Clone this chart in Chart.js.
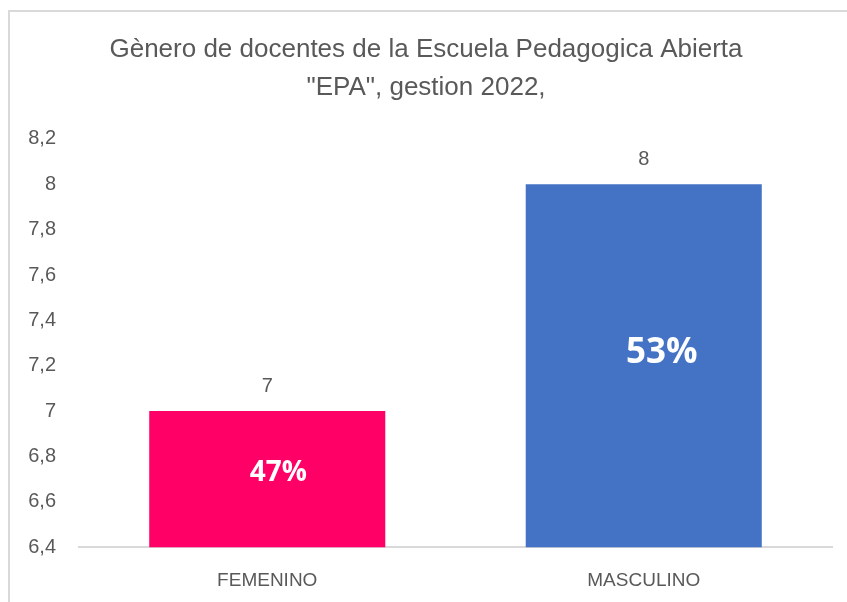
<!DOCTYPE html>
<html><head><meta charset="utf-8">
<script src="https://cdn.jsdelivr.net/npm/chart.js@4"></script>
<style>html,body{margin:0;padding:0;background:#fff}#wrap{width:847px;height:602px;position:relative}</style>
</head><body><div id="wrap"><canvas id="c" width="847" height="602"></canvas></div>
<script>
const categories = ['FEMENINO', 'MASCULINO'];
const values = [7, 8];
const percents = ['47%', '53%'];
const barColors = ['#FF0066', '#4472C4'];
const titleLines = ['Gènero de docentes de la Escuela Pedagogica Abierta', '"EPA", gestion 2022,'];
const yMin = 6.4, yMax = 8.2, yStep = 0.2;

const TXT = '#595959';
const frame = {
  id: 'frame',
  beforeDraw(chart) {
    const ctx = chart.ctx;
    ctx.save();
    ctx.strokeStyle = '#d9d9d9';
    ctx.lineWidth = 2;
    ctx.strokeRect(9, 11, 900, 700);
    ctx.restore();
  }
};
const labels = {
  id: 'labels',
  afterDraw(chart) {
    const ctx = chart.ctx;
    const meta = chart.getDatasetMeta(0);
    const offs = [[11, -6], [18, -13]];
    const basePx = chart.scales.y.getPixelForValue(yMin);
    ctx.save();
    meta.data.forEach((bar, i) => {
      const p = bar.getProps(['x', 'y'], true);
      ctx.textAlign = 'center';
      ctx.textBaseline = 'middle';
      ctx.fillStyle = TXT;
      ctx.font = '20px "Liberation Sans", Arial, sans-serif';
      ctx.fillText(String(values[i]), p.x, p.y - 25);
      ctx.fillStyle = '#ffffff';
      ctx.font = 'bold ' + (i === 0 ? 28 : 35) + 'px "Open Sans", sans-serif';
      const mid = (p.y + basePx) / 2;
      ctx.fillText(percents[i], p.x + offs[i][0], mid + offs[i][1]);
    });
    ctx.restore();
  }
};

new Chart(document.getElementById('c'), {
  type: 'bar',
  data: {
    labels: categories,
    datasets: [{ data: values, backgroundColor: barColors, borderWidth: 0,
      barPercentage: 0.627, categoryPercentage: 1.0 }]
  },
  options: {
    responsive: false,
    animation: false,
    layout: { padding: { left: 20, right: 15, top: 0, bottom: -4 } },
    plugins: {
      legend: { display: false },
      tooltip: { enabled: false },
      title: {
        display: true,
        text: titleLines,
        color: TXT,
        font: { family: '"Liberation Sans", Arial, sans-serif', size: 26, weight: 'normal', lineHeight: 1.46 },
        padding: { top: 31, bottom: 32 }
      }
    },
    scales: {
      x: {
        grid: { display: false },
        border: { display: true, color: '#d9d9d9', width: 2 },
        ticks: { color: TXT, font: { family: '"Liberation Sans", Arial, sans-serif', size: 19 }, padding: 14 }
      },
      y: {
        min: yMin, max: yMax,
        grid: { display: false },
        border: { display: false },
        afterFit(s) { s.width = 59; },
        ticks: {
          stepSize: yStep,
          color: TXT,
          font: { family: '"Liberation Sans", Arial, sans-serif', size: 20 },
          padding: 15,
          callback: v => (Math.round(v * 10) / 10).toString().replace('.', ',')
        }
      }
    }
  },
  plugins: [frame, labels]
});
</script>
</body></html>
